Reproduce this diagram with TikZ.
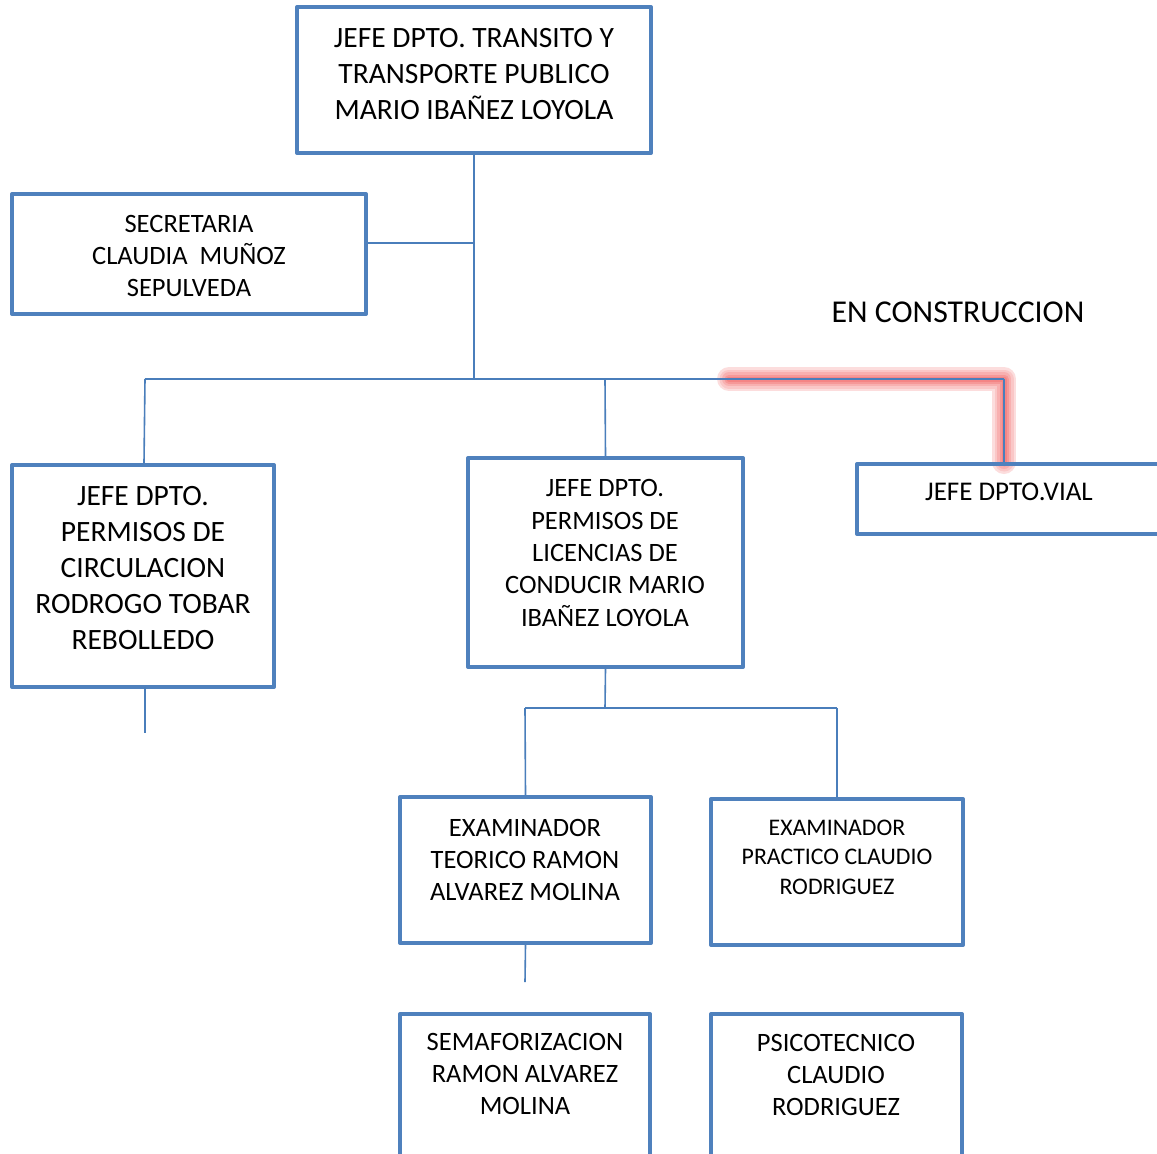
\documentclass[tikz,border=0pt]{standalone}
\usepackage{fontspec}
\setmainfont{Carlito}
\definecolor{boxblue}{HTML}{4F81BD}
\definecolor{lineblue}{HTML}{4A7EBB}
\definecolor{glowred}{HTML}{EE4444}
\tikzset{
  orgbox/.style={draw=boxblue, line width=4pt, line join=round, fill=none, inner sep=0pt},
  conn/.style={draw=lineblue, line width=1.6pt},
  glow/.style={line cap=round, line join=round},
  txtL/.style={inner sep=0pt, align=center, font=\fontsize{29.5}{36}\selectfont},
  txtM/.style={inner sep=0pt, align=center, font=\fontsize{26.5}{32.3}\selectfont},
  txtS/.style={inner sep=0pt, align=center, font=\fontsize{23.8}{29.5}\selectfont},
}
\begin{document}
\begin{tikzpicture}[x=1pt,y=-1pt]
\useasboundingbox (0,0) rectangle (1157,1154);
\clip (0,0) rectangle (1157,1154);
\fill[white] (0,0) rectangle (1157,1154);

% junction coordinates
\coordinate (jsec) at (474,243);
\coordinate (jmain) at (474,379);
\coordinate (jleft) at (145,379);
\coordinate (jmid) at (605,379);
\coordinate (jvial) at (1004,379);
\coordinate (jvialB) at (1004,462);
\coordinate (glowA) at (729,379);
\coordinate (stub) at (145,733);
\coordinate (jlic) at (605,708);
\coordinate (jteo) at (525,708);
\coordinate (jpra) at (837,708);
\coordinate (stub2) at (525,982);

% red glow
\draw[glow, glowred!18, line width=24pt] (glowA) -- (jvial) -- (jvialB);
\draw[glow, glowred!30, line width=19pt] (glowA) -- (jvial) -- (jvialB);
\draw[glow, glowred!42, line width=14pt] (glowA) -- (jvial) -- (jvialB);
\draw[glow, glowred!55, line width=9pt] (glowA) -- (jvial) -- (jvialB);
\draw[glow, glowred!65, line width=5pt] (glowA) -- (jvial) -- (jvialB);

% boxes
\node[orgbox, minimum width=354pt, minimum height=146pt] (top) at (474,80) {};
\node[orgbox, minimum width=354pt, minimum height=120pt] (sec) at (189,254) {};
\node[orgbox, minimum width=262pt, minimum height=222pt] (circ) at (143,576) {};
\node[orgbox, minimum width=275pt, minimum height=209pt] (lic) at (605.5,562.5) {};
\node[orgbox, minimum width=330pt, minimum height=70pt, anchor=north west] (vial) at (855,462) {};
\node[orgbox, minimum width=251pt, minimum height=146pt] (teo) at (525.5,870) {};
\node[orgbox, minimum width=252pt, minimum height=146pt] (pra) at (837,872) {};
\node[orgbox, minimum width=250pt, minimum height=200pt, anchor=north] (sem) at (525,1012) {};
\node[orgbox, minimum width=251pt, minimum height=200pt, anchor=north] (psi) at (836.5,1012) {};

% texts
\node[txtL] (topT) at (474,74) {JEFE DPTO. TRANSITO Y\\TRANSPORTE PUBLICO\\MARIO IBAÑEZ LOYOLA};
\node[txtM] (secT) at (189,256) {SECRETARIA\\CLAUDIA~~MUÑOZ\\SEPULVEDA};
\node[txtL] (circT) at (143,568) {JEFE DPTO.\\PERMISOS DE\\CIRCULACION\\RODROGO TOBAR\\REBOLLEDO};
\node[txtM] (licT) at (605,553) {JEFE DPTO.\\PERMISOS DE\\LICENCIAS DE\\CONDUCIR MARIO\\IBAÑEZ LOYOLA};
\node[inner sep=0pt, font=\fontsize{27}{32}\selectfont] (vialT) at (1009,492) {JEFE DPTO.VIAL};
\node[inner sep=0pt, font=\fontsize{31.8}{36}\selectfont] (consT) at (958,312) {EN CONSTRUCCION};
\node[txtM] (teoT) at (525,860) {EXAMINADOR\\TEORICO RAMON\\ALVAREZ MOLINA};
\node[txtS] (praT) at (837,857) {EXAMINADOR\\PRACTICO CLAUDIO\\RODRIGUEZ};
\node[txtM] (semT) at (525,1074) {SEMAFORIZACION\\RAMON ALVAREZ\\MOLINA};
\node[txtM] (psiT) at (836,1075) {PSICOTECNICO\\CLAUDIO\\RODRIGUEZ};

% connectors
\draw[conn] (top.south) -- (jmain);
\draw[conn] (jsec) -- (jsec -| sec.east);
\draw[conn] (jleft) -- (jvial);
\draw[conn] (jleft) -- (144,463);
\draw[conn] (jmid) -- (lic.north);
\draw[conn] (jvial) -- (jvialB);
\draw[conn] (145,687) -- (stub);
\draw[conn] (lic.south) -- (jlic);
\draw[conn] (jteo) -- (jpra);
\draw[conn] (jteo) -- (teo.north);
\draw[conn] (jpra) -- (pra.north);
\draw[conn] (teo.south) -- (stub2);
\end{tikzpicture}
\end{document}
